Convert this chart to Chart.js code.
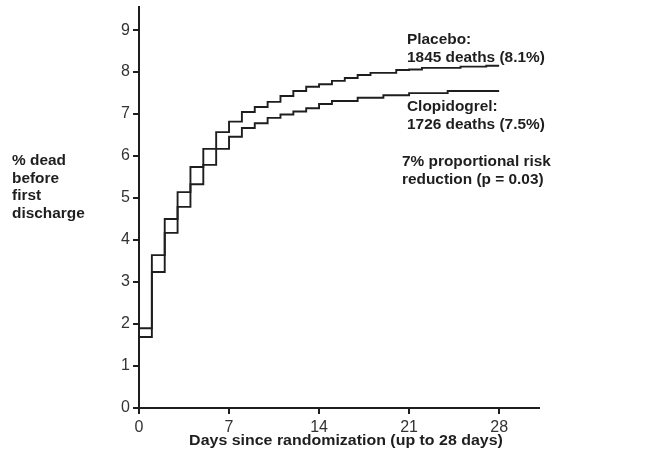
<!DOCTYPE html>
<html>
<head>
<meta charset="utf-8">
<script src="https://cdn.jsdelivr.net/npm/chart.js@4/dist/chart.umd.min.js"></script>
<style>
  html, body { margin: 0; padding: 0; background: #fff; }
  #wrap { width: 649px; height: 458px; }
</style>
</head>
<body>
<div id="wrap"><canvas id="chart" width="649" height="458"></canvas></div>
<script>
// day index for each step (value holds from this day to the next)
const days = [0,1,2,3,4,5,6,7,8,9,10,11,12,13,14,15,16,17,18,19,20,21,22,23,24,25,26,27,28];
const placebo = [1.90,3.64,4.50,5.14,5.74,6.17,6.57,6.82,7.05,7.17,7.29,7.43,7.55,7.65,7.71,
  7.79,7.86,7.93,7.98,7.98,8.05,8.06,8.10,8.10,8.10,8.13,8.13,8.15,8.15];
const clopidogrel = [1.69,3.24,4.17,4.79,5.33,5.79,6.17,6.46,6.67,6.78,6.91,6.99,7.06,7.14,7.24,
  7.31,7.31,7.39,7.39,7.45,7.45,7.50,7.50,7.50,7.55,7.55,7.55,7.55,7.55];

const xTicks = [0, 7, 14, 21, 28];
const yTicks = [0, 1, 2, 3, 4, 5, 6, 7, 8, 9];

const yTitle = ["% dead", "before", "first", "discharge"];
const xTitle = "Days since randomization (up to 28 days)";
const notes = [
  { lines: ["Placebo:", "1845 deaths (8.1%)"], x: 407, y: 40 },
  { lines: ["Clopidogrel:", "1726 deaths (7.5%)"], x: 407, y: 107 },
  { lines: ["7% proportional risk", "reduction (p = 0.03)"], x: 402, y: 162 }
];

const ink = "#1e1e1e";
const font = "'Liberation Sans', Arial, sans-serif";

function toPoints(vals) {
  return days.map((d, i) => ({ x: d, y: vals[i] }));
}

// the original lettering is a little wide, so stretch it sideways
function wideText(ctx, t, x, y) {
  ctx.save();
  ctx.translate(x, y);
  ctx.scale(1.1, 1);
  ctx.fillText(t, 0, 0);
  ctx.restore();
}

const textPlugin = {
  id: "texts",
  afterDraw(chart) {
    const ctx = chart.ctx;
    ctx.save();
    ctx.fillStyle = ink;
    ctx.textBaseline = "middle";
    ctx.font = "bold 14px " + font;
    ctx.textAlign = "left";
    yTitle.forEach((t, i) => wideText(ctx, t, 12, 161 + i * 17.7));
    notes.forEach(n => {
      n.lines.forEach((t, i) => wideText(ctx, t, n.x, n.y + i * 18));
    });
    ctx.font = "bold 14.5px " + font;
    ctx.textAlign = "center";
    wideText(ctx, xTitle, 346, 441);
    ctx.restore();
  }
};

new Chart(document.getElementById("chart"), {
  type: "line",
  data: {
    datasets: [
      {
        label: "Placebo",
        data: toPoints(placebo),
        borderColor: ink,
        borderWidth: 1.9,
        stepped: "before",
        pointRadius: 0,
        fill: false
      },
      {
        label: "Clopidogrel",
        data: toPoints(clopidogrel),
        borderColor: ink,
        borderWidth: 1.9,
        stepped: "before",
        pointRadius: 0,
        fill: false
      }
    ]
  },
  options: {
    responsive: false,
    animation: false,
    layout: { padding: { left: 0, right: 110, top: 7, bottom: 0 } },
    plugins: {
      legend: { display: false },
      tooltip: { enabled: false }
    },
    scales: {
      x: {
        type: "linear",
        min: 0,
        max: 31.1,
        afterBuildTicks: s => { s.ticks = xTicks.map(v => ({ value: v })); },
        afterFit: s => { s.height = 50; s.paddingLeft = 0; s.paddingRight = 0; },
        border: { color: ink, width: 2 },
        grid: { drawOnChartArea: false, drawTicks: true, tickLength: 6, color: ink, lineWidth: 2 },
        ticks: { color: "#333", font: { family: font, size: 16 }, padding: 4, maxRotation: 0 }
      },
      y: {
        min: 0,
        max: 9.55,
        afterBuildTicks: s => { s.ticks = yTicks.map(v => ({ value: v })); },
        afterFit: s => { s.width = 139; s.paddingTop = 0; s.paddingBottom = 0; },
        border: { color: ink, width: 2 },
        grid: { drawOnChartArea: false, drawTicks: true, tickLength: 6, color: ink, lineWidth: 2 },
        ticks: { color: "#333", font: { family: font, size: 16 }, padding: 3 }
      }
    }
  },
  plugins: [textPlugin]
});
</script>
</body>
</html>
